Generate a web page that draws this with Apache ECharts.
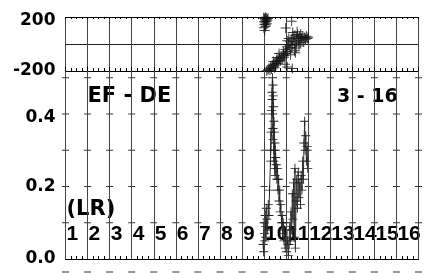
<!DOCTYPE html>
<html><head><meta charset="utf-8">
<script src="https://cdn.jsdelivr.net/npm/echarts@6/dist/echarts.min.js"></script>
<style>html,body{margin:0;padding:0;background:#fff}#c{width:424px;height:273px}</style>
</head><body><div id="c"></div>
<script>
// ---- data ----
const numberLabels = ['1','2','3','4','5','6','7','8','9','10','11','12','13','14','15','16'];
const topTickLabels = ['-200', '200'];
const topTickValues = [-200, 200];
const bottomTickLabels = ['0.0', '0.2', '0.4'];
const bottomTickValues = [0, 0.2, 0.4];
const xGridValues = [0,1,2,3,4,5,6,7,8,9,10,11,12,13,14,15,16];
const yMarkValues = [0.1, 0.2, 0.3, 0.4, 0.5];

const phaseX = [8.98,9.02,9.06,9.10,9.04,9.08,9.13,9.00,9.05,9.11,9.15,9.02,9.08,8.99,9.03,9.12,9.18,9.07,
  10.25,9.98,
  9.12,9.18,9.22,9.27,9.30,9.34,9.37,9.41,9.44,9.47,9.50,9.53,9.56,9.60,9.63,9.66,9.70,9.74,9.78,9.82,9.86,9.90,9.42,9.58,9.95,10.05,10.28,9.68,
  9.88,9.92,9.97,10.00,10.03,10.07,10.10,10.14,10.18,10.22,10.25,10.28,10.32,10.36,10.40,10.44,10.48,10.52,10.56,10.60,10.64,10.68,10.72,10.76,10.80,10.84,10.88,10.92,10.96,11.00,10.20,10.38,10.46,10.58,10.30,10.50,10.12,10.66,10.05,10.42];
const phaseY = [195,188,198,192,180,172,185,165,158,166,178,145,140,120,100,150,190,130,
  168,118,
  -198,-190,-182,-195,-172,-185,-160,-168,-150,-175,-140,-155,-128,-145,-118,-132,-105,-122,-95,-110,-80,-98,-130,-100,-150,-170,-182,-70,
  -60,-85,-40,-70,-20,-55,-5,-35,15,-25,35,-10,50,20,65,5,40,70,25,55,10,45,30,60,15,48,35,58,40,50,-80,-50,-30,-15,85,90,40,75,25,-65];

const cohX = [8.96,9.00,8.98,9.02,9.05,9.03,9.07,9.10,9.08,9.13,9.16,9.19,9.22,9.25,
  9.29,9.32,9.30,9.34,9.36,9.38,9.37,9.40,9.39,9.42,9.40,9.43,9.41,9.45,9.44,9.47,9.45,9.49,9.48,9.51,9.50,9.53,9.55,
  9.58,9.61,9.63,9.66,9.68,9.71,9.73,9.76,9.79,9.82,9.84,9.87,9.90,9.93,9.96,9.99,10.02,10.06,10.10,10.13,
  10.16,10.19,10.22,10.25,10.28,10.31,10.34,10.37,10.40,10.42,10.45,10.48,10.51,10.55,10.58,10.62,10.65,10.68,10.72,10.75,10.78,10.81,10.84,10.86,10.89,10.92,10.95,10.98];
const cohY = [0.04,0.10,0.02,0.07,0.12,0.05,0.09,0.14,0.06,0.11,0.08,0.15,0.12,0.19,
  0.27,0.35,0.30,0.41,0.46,0.50,0.44,0.48,0.40,0.45,0.36,0.42,0.33,0.38,0.30,0.35,0.27,0.32,0.25,0.30,0.23,0.28,0.26,
  0.22,0.25,0.19,0.22,0.16,0.19,0.13,0.15,0.10,0.12,0.07,0.10,0.05,0.08,0.03,0.06,0.02,0.05,0.01,0.04,
  0.09,0.05,0.13,0.08,0.18,0.11,0.21,0.06,0.25,0.03,0.16,0.22,0.14,0.24,0.17,0.21,0.15,0.23,0.19,0.27,0.22,0.32,0.38,0.30,0.34,0.27,0.31,0.25];

// ---- chart ----
const FONT = 'DejaVu Sans';
const plus = 'path://M0,4.5H10V5.5H0ZM4.5,0H5.5V10H4.5Z';
const G = {left: 65.5, right: 5.5};
function xBase(gi, pos, tickLen, minorLen, split) {
  return {
    type: 'value', gridIndex: gi, position: pos, min: 0, max: 16, interval: 1,
    axisLine: {show: true, onZero: false, lineStyle: {color: '#000', width: 1}},
    axisTick: {show: true, inside: true, length: tickLen, lineStyle: {color: '#000'}},
    minorTick: {show: true, splitNumber: 4, length: minorLen, lineStyle: {color: '#000'}},
    splitLine: {show: split, lineStyle: {color: '#444', width: 1}},
    axisLabel: {show: false}
  };
}
const labelAxis = {
  type: 'value', gridIndex: 1, position: 'bottom', min: 0, max: 16, interval: 1,
  axisLine: {show: false, onZero: false}, axisTick: {show: false}, splitLine: {show: false},
  axisLabel: {
    show: true, inside: true, margin: 25, align: 'left', verticalAlign: 'middle',
    padding: [0, 0, 0, 1], color: '#000', fontFamily: 'Liberation Sans', fontWeight: 'bold', fontSize: 21,
    showMaxLabel: false,
    formatter: v => (v >= 0 && v < numberLabels.length) ? numberLabels[Math.round(v)] : ''
  }
};
const labelStyle = {color: '#000', fontFamily: FONT, fontWeight: 'bold', fontSize: 17};
const gridMarks = [];
xGridValues.forEach(x => yMarkValues.forEach(y => gridMarks.push([x, y])));
const edgeMarks = xGridValues.map(x => [x, 1]);
const option = {
  animation: false,
  grid: [
    {left: G.left, right: G.right, top: 17, height: 54},
    {left: G.left, right: G.right, top: 71, height: 188},
    {left: G.left, right: G.right, top: 272, height: 100}
  ],
  xAxis: [
    xBase(0, 'bottom', 4, 3, true),
    xBase(0, 'top', 2, 2, false),
    xBase(1, 'bottom', 4, 3, true),
    {type: 'value', gridIndex: 2, min: 0, max: 16, interval: 1,
     axisLine: {show: false}, axisTick: {show: false}, axisLabel: {show: false}, splitLine: {show: false}},
    labelAxis
  ],
  yAxis: [
    {type: 'value', gridIndex: 0, min: -200, max: 200, interval: 200,
     axisLine: {show: false}, axisTick: {show: false},
     splitLine: {show: true, lineStyle: {color: '#222', width: 1}},
     axisLabel: Object.assign({margin: 10, rich: {d: Object.assign({padding: [8, 0, 0, 0]}, labelStyle)},
       formatter: v => { const i = topTickValues.indexOf(v); if (i < 0) return ''; return v > 0 ? '{d|' + topTickLabels[i] + '}' : topTickLabels[i]; }}, labelStyle)},
    {type: 'value', gridIndex: 1, min: 0, max: 0.5186, interval: 0.1,
     axisLine: {show: false}, axisTick: {show: false}, splitLine: {show: false},
     axisLabel: Object.assign({margin: 10, showMaxLabel: false, rich: {d: Object.assign({padding: [8, 0, 0, 0]}, labelStyle)},
       formatter: v => { const i = bottomTickValues.findIndex(t => Math.abs(t - v) < 1e-6); if (i < 0) return ''; return i === 2 ? '{d|' + bottomTickLabels[i] + '}' : bottomTickLabels[i]; }}, labelStyle)},
    {type: 'value', gridIndex: 2, min: 0, max: 1, interval: 1,
     axisLine: {show: false}, axisTick: {show: false}, axisLabel: {show: false}, splitLine: {show: false}}
  ],
  graphic: [
    {type: 'text', x: 87.5, y: 97, style: {text: 'EF - DE', font: 'bold 21px "DejaVu Sans"', fill: '#000', verticalAlign: 'middle'}},
    {type: 'text', x: 337, y: 97, style: {text: '3 - 16', font: 'bold 19px "DejaVu Sans"', fill: '#000', verticalAlign: 'middle'}},
    {type: 'text', x: 66.5, y: 210, style: {text: '(LR)', font: 'bold 21px "DejaVu Sans"', fill: '#000', verticalAlign: 'middle'}}
  ],
  series: [
    {type: 'scatter', xAxisIndex: 2, yAxisIndex: 1, symbol: 'rect', symbolSize: [7, 1], silent: true, z: 1,
     itemStyle: {color: '#000'}, data: gridMarks,
     markLine: {silent: true, symbol: 'none', label: {show: false}, animation: false,
       lineStyle: {color: '#444', width: 1, type: 'solid'},
       data: xGridValues.map(x => ({xAxis: x}))}},
    {type: 'scatter', xAxisIndex: 3, yAxisIndex: 2, symbol: 'rect', symbolSize: [7, 1], silent: true, clip: false, z: 1,
     itemStyle: {color: '#000'}, data: edgeMarks},
    {type: 'scatter', xAxisIndex: 0, yAxisIndex: 0, symbol: plus, symbolSize: 10,
     itemStyle: {color: '#111'}, data: phaseX.map((x, i) => [x, phaseY[i]])},
    {type: 'line', xAxisIndex: 2, yAxisIndex: 1, symbol: plus, symbolSize: 9, showAllSymbol: true,
     lineStyle: {color: '#333', width: 1}, itemStyle: {color: '#222'},
     data: cohX.map((x, i) => [x, cohY[i]])}
  ]
};
const chart = echarts.init(document.getElementById('c'), null, {renderer: 'canvas'});
chart.setOption(option);
</script></body></html>
